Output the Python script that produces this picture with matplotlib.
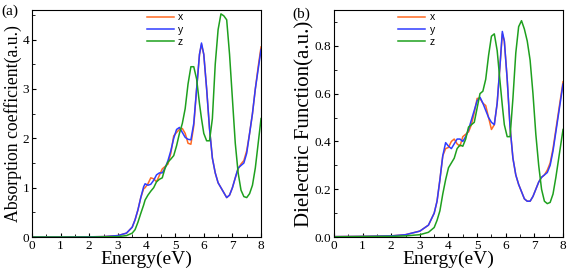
import matplotlib.pyplot as plt

# absorption coefficient (a)
ea = [0, 1, 2, 2.5, 3.0, 3.3, 3.5, 3.6, 3.7, 3.8, 3.9, 3.95, 4.05, 4.15, 4.25, 4.35, 4.45, 4.55, 4.65,
      4.75, 4.85, 4.95, 5.05, 5.15, 5.25, 5.35, 5.45, 5.55, 5.65, 5.75, 5.85, 5.92, 6.0, 6.1, 6.2, 6.3,
      6.4, 6.5, 6.6, 6.7, 6.8, 6.9, 7.0, 7.1, 7.2, 7.3, 7.4, 7.5, 7.6, 7.7, 7.8, 7.9, 8.0]
ax_y = [0, 0, 0.005, 0.01, 0.03, 0.08, 0.2, 0.35, 0.55, 0.8, 1.02, 1.08, 1.05, 1.07, 1.15, 1.26, 1.3,
        1.3, 1.4, 1.55, 1.75, 2.0, 2.18, 2.22, 2.12, 2.02, 1.98, 1.97, 2.3, 3.0, 3.7, 3.93, 3.7, 3.0,
        2.2, 1.6, 1.3, 1.1, 1.0, 0.9, 0.8, 0.85, 1.0, 1.2, 1.4, 1.45, 1.5, 1.7, 2.1, 2.5, 3.0, 3.4, 3.8]
ax_x = [0, 0, 0.005, 0.01, 0.03, 0.08, 0.2, 0.35, 0.55, 0.8, 0.98, 1.0, 1.08, 1.2, 1.18, 1.12, 1.25,
        1.38, 1.43, 1.48, 1.7, 2.05, 2.12, 2.18, 2.2, 2.1, 1.9, 1.88, 2.25, 3.0, 3.7, 3.9, 3.7, 3.0,
        2.2, 1.6, 1.3, 1.1, 1.0, 0.9, 0.8, 0.85, 1.0, 1.2, 1.38, 1.48, 1.55, 1.75, 2.1, 2.5, 3.0, 3.45, 3.85]
ax_z = [0, 0, 0, 0.005, 0.01, 0.03, 0.08, 0.15, 0.3, 0.48, 0.65, 0.75, 0.85, 0.93, 1.0, 1.12, 1.17,
        1.2, 1.4, 1.52, 1.58, 1.65, 1.85, 2.1, 2.3, 2.6, 3.1, 3.45, 3.45, 3.2, 2.7, 2.4, 2.1, 1.95,
        1.95, 2.4, 3.5, 4.2, 4.52, 4.48, 4.4, 3.7, 2.8, 1.9, 1.3, 0.95, 0.82, 0.8, 0.88, 1.05, 1.4, 1.9, 2.4]

# dielectric function (b)
eb = [0, 1, 2, 2.5, 3.0, 3.3, 3.5, 3.6, 3.7, 3.8, 3.9, 4.0, 4.1, 4.2, 4.3, 4.4, 4.5, 4.6, 4.7, 4.8,
      4.9, 5.0, 5.1, 5.2, 5.3, 5.4, 5.5, 5.6, 5.7, 5.8, 5.88, 5.95, 6.05, 6.15, 6.25, 6.35, 6.45,
      6.55, 6.65, 6.75, 6.85, 6.95, 7.05, 7.15, 7.25, 7.35, 7.45, 7.55, 7.65, 7.75, 7.85, 8.0]
bx_y = [0.002, 0.003, 0.005, 0.01, 0.025, 0.05, 0.1, 0.15, 0.24, 0.34, 0.395, 0.38, 0.37, 0.39,
        0.41, 0.41, 0.4, 0.42, 0.45, 0.49, 0.53, 0.57, 0.585, 0.56, 0.53, 0.5, 0.48, 0.47, 0.56, 0.72,
        0.86, 0.82, 0.66, 0.46, 0.33, 0.26, 0.22, 0.19, 0.16, 0.15, 0.15, 0.17, 0.2, 0.23, 0.25,
        0.26, 0.27, 0.3, 0.36, 0.44, 0.52, 0.64]
bx_x = [0.002, 0.003, 0.005, 0.01, 0.025, 0.05, 0.1, 0.15, 0.24, 0.34, 0.37, 0.375, 0.4, 0.41,
        0.39, 0.38, 0.42, 0.43, 0.44, 0.47, 0.52, 0.58, 0.58, 0.56, 0.55, 0.5, 0.45, 0.47, 0.56, 0.72,
        0.85, 0.82, 0.66, 0.46, 0.33, 0.26, 0.22, 0.19, 0.16, 0.15, 0.15, 0.17, 0.2, 0.23, 0.25,
        0.26, 0.28, 0.31, 0.37, 0.45, 0.53, 0.65]
bx_z = [0.001, 0.002, 0.003, 0.005, 0.01, 0.02, 0.04, 0.07, 0.11, 0.18, 0.24, 0.29, 0.31, 0.33,
        0.37, 0.385, 0.38, 0.41, 0.46, 0.47, 0.48, 0.54, 0.6, 0.61, 0.66, 0.76, 0.84, 0.85, 0.78,
        0.65, 0.55, 0.47, 0.42, 0.42, 0.58, 0.77, 0.88, 0.905, 0.87, 0.82, 0.74, 0.6, 0.43, 0.3,
        0.2, 0.15, 0.14, 0.145, 0.18, 0.25, 0.33, 0.45]

colors = ['#ff6a22', '#2f3cff', '#1ea01e']
labels = ['x', 'y', 'z']

plt.rcParams['font.family'] = 'Liberation Serif'

fig = plt.figure(figsize=(5.67, 2.76), dpi=100)
ax1 = fig.add_axes([0.0564, 0.141, 0.404, 0.823])
ax2 = fig.add_axes([0.589, 0.141, 0.404, 0.823])

for ax, e, ys in [(ax1, ea, [ax_x, ax_y, ax_z]), (ax2, eb, [bx_x, bx_y, bx_z])]:
    for y, c, lab in zip(ys, colors, labels):
        ax.plot(e, y, color=c, linewidth=1.1, label=lab)
    ax.set_xlim(0, 8)
    ax.set_xticks(range(0, 9))
    ax.set_xticks([i + 0.5 for i in range(8)], minor=True)
    ax.tick_params(which='both', direction='in', labelsize=9.5, pad=2)
    ax.tick_params(which='major', length=3)
    ax.tick_params(which='minor', length=2)
    ax.set_xlabel('Energy(eV)', fontsize=14, labelpad=-1)
    for s in ax.spines.values():
        s.set_linewidth(0.8)
    ax.legend(loc='upper left', bbox_to_anchor=(0.46 if ax is ax1 else 0.24, 1.03),
              frameon=False, prop={'family': 'Liberation Sans', 'size': 7.5},
              handlelength=2.6, labelspacing=0.2, handletextpad=0.4)

ax1.set_ylim(0, 4.6)
ax1.set_yticks([0, 1, 2, 3, 4])
ax1.set_yticks([0.5, 1.5, 2.5, 3.5, 4.5], minor=True)
ax1.set_ylabel('Absorption coefficient(a.u.)', fontsize=12.8, labelpad=0)

ax2.set_ylim(0, 0.95)
ax2.set_yticks([0, 0.2, 0.4, 0.6, 0.8])
ax2.set_yticklabels(['0.0', '0.2', '0.4', '0.6', '0.8'])
ax2.set_yticks([0.1, 0.3, 0.5, 0.7, 0.9], minor=True)
ax2.set_ylabel('Dielectric Function(a.u.)', fontsize=15, labelpad=0)

fig.text(0.003, 0.945, '(a)', fontsize=11)
fig.text(0.515, 0.935, '(b)', fontsize=11)

fig.savefig('out.png', dpi=100)
